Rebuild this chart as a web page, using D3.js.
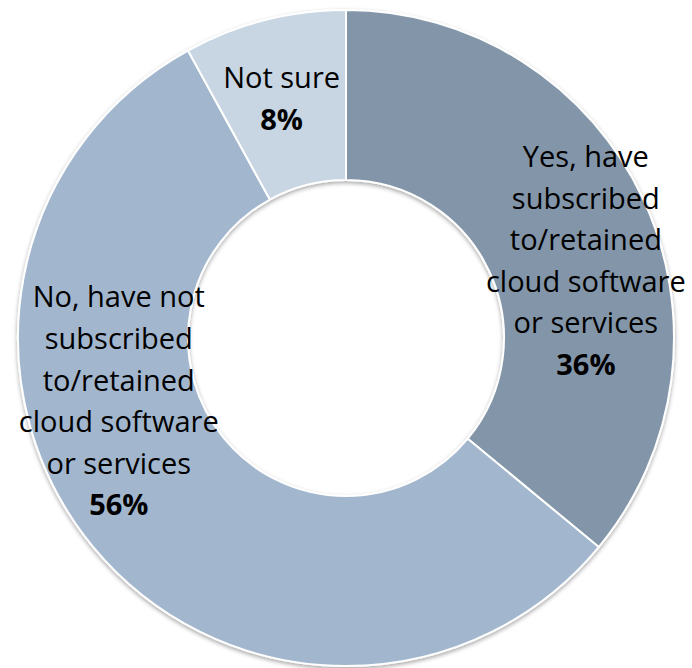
<!DOCTYPE html>
<html>
<head>
<meta charset="utf-8">
<script src="https://cdn.jsdelivr.net/npm/d3@7"></script>
<style>
  html, body { margin: 0; padding: 0; background: #ffffff; }
  svg { display: block; }
</style>
</head>
<body>
<svg id="chart" width="692" height="668"></svg>
<script>
// Survey answers, in drawing order (clockwise from 12 o'clock)
const categories = [
  "Yes, have subscribed to/retained cloud software or services",
  "No, have not subscribed to/retained cloud software or services",
  "Not sure"
];
const values = [36, 56, 8];
const labelLines = [
  ["Yes, have", "subscribed", "to/retained", "cloud software", "or services"],
  ["No, have not", "subscribed", "to/retained", "cloud software", "or services"],
  ["Not sure"]
];
const valueLabels = ["36%", "56%", "8%"];

// Layout
const W = 692, H = 668;
const cx = 346, cy = 338;
const outerR = 328, innerR = 158;
const colors = ["#8396a9", "#a2b7ce", "#c8d5e2"];
const fontSize = 29, lineH = 41.6;
// label block nudges from each slice centroid
const labelNudge = [[20, 26], [-40, -92], [-4, -4]];

const svg = d3.select("#chart");

const defs = svg.append("defs");
const f = defs.append("filter").attr("id", "shadow")
  .attr("x", "-10%").attr("y", "-10%").attr("width", "120%").attr("height", "120%");
f.append("feDropShadow")
  .attr("dx", 0).attr("dy", 2).attr("stdDeviation", 2.2)
  .attr("flood-color", "#000").attr("flood-opacity", 0.35);

const pie = d3.pie().value(d => d).sort(null);
const arc = d3.arc().innerRadius(innerR).outerRadius(outerR);
const arcs = pie(values);

const g = svg.append("g").attr("transform", `translate(${cx},${cy})`);

g.append("g").attr("filter", "url(#shadow)")
  .selectAll("path")
  .data(arcs)
  .join("path")
  .attr("d", arc)
  .attr("fill", (d, i) => colors[i])
  .attr("stroke", "#ffffff")
  .attr("stroke-width", 2)
  .attr("stroke-linejoin", "round");

const labels = g.append("g")
  .attr("font-family", "'Open Sans', 'Liberation Sans', sans-serif")
  .attr("font-size", fontSize)
  .attr("fill", "#000")
  .attr("text-anchor", "middle");

arcs.forEach((d, i) => {
  const [x0, y0] = arc.centroid(d);
  const lines = labelLines[i];
  const n = lines.length + 1;
  const x = x0 + labelNudge[i][0];
  const yc = y0 + labelNudge[i][1];
  // baseline of first line so that the block is centred on yc
  const firstBase = yc - (n - 1) * lineH / 2 + fontSize * 0.36;
  const t = labels.append("text").attr("x", x).attr("y", firstBase);
  lines.forEach((ln, k) => {
    t.append("tspan").attr("x", x).attr("y", firstBase + k * lineH).text(ln);
  });
  t.append("tspan").attr("x", x).attr("y", firstBase + lines.length * lineH)
    .attr("font-weight", "bold").text(valueLabels[i]);
});
</script>
</body>
</html>
